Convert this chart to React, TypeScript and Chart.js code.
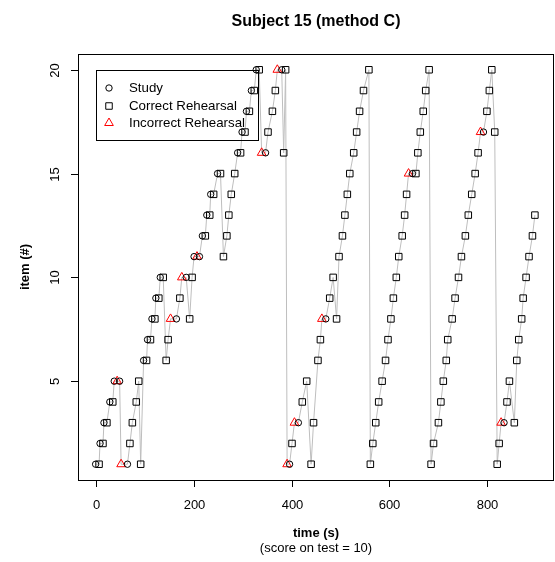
import React, { useEffect, useRef } from "react";
import { Chart, registerables } from "chart.js";

Chart.register(...registerables);

// Study presentations (time in s, item number)
const studyTimes = [0, 9, 17, 29, 38, 49, 65, 98, 106, 115, 123, 132, 165, 185, 201, 212, 218, 227, 235, 249, 290, 299, 308, 318, 328, 347, 380, 396, 414, 470, 647, 792, 834];
const studyItems = [1, 2, 3, 4, 5, 5, 1, 6, 7, 8, 9, 10, 8, 10, 11, 11, 12, 13, 14, 15, 16, 17, 18, 19, 20, 16, 20, 1, 3, 8, 15, 17, 3];

// Correct rehearsals
const correctTimes = [
  7, 15, 23, 35, 70, 75, 83, 88, 92,
  104, 112, 121, 129, 138, 144, 148, 172, 192, 197,
  224, 233, 241, 255, 261, 268, 272, 277, 284,
  296, 305, 314, 324, 334, 352, 361, 367, 384, 388,
  401, 422, 431, 440, 445, 454, 459, 478, 485, 492, 497, 504, 509, 514, 519, 527, 533, 539, 547, 558,
  561, 566, 572, 578, 585, 592, 597, 603, 608, 614, 619, 626, 631, 635, 654, 658, 663, 669, 674, 681,
  685, 690, 700, 705, 710, 716, 719, 728, 734, 741, 747, 755, 761, 768, 775, 781, 799, 804, 809, 815,
  820, 824, 840, 845, 855, 860, 864, 870, 873, 879, 885, 892, 897,
];
const correctItems = [
  1, 2, 3, 4, 2, 3, 4, 5, 1,
  6, 7, 8, 9, 10, 6, 7, 9, 8, 10,
  12, 13, 14, 15, 11, 12, 13, 14, 15,
  16, 17, 18, 19, 20, 17, 18, 19, 16, 20,
  2, 4, 5, 1, 3, 6, 7, 9, 10, 8, 11, 12, 13, 14, 15, 16, 17, 18, 19, 20,
  1, 2, 3, 4, 5, 6, 7, 8, 9, 10, 11, 12, 13, 14, 15, 16, 17, 18, 19, 20,
  1, 2, 3, 4, 5, 6, 7, 8, 9, 10, 11, 12, 13, 14, 15, 16, 18, 19, 20, 17,
  1, 2, 4, 5, 3, 6, 7, 8, 9, 10, 11, 12, 13,
];

// Incorrect rehearsals
const incorrectTimes = [44, 52, 153, 176, 207, 339, 371, 391, 406, 462, 639, 786, 828];
const incorrectItems = [5, 1, 8, 10, 11, 16, 20, 1, 3, 8, 15, 17, 3];

const xTicks = [0, 200, 400, 600, 800];
const yTicks = [5, 10, 15, 20];

const titleText = "Subject 15 (method C)";
const xLabel = "time (s)";
const subLabel = "(score on test = 10)";
const yLabel = "item (#)";
const legendLabels = ["Study", "Correct Rehearsal", "Incorrect Rehearsal"];

const FONT = "'Liberation Sans', Arial, Helvetica, sans-serif";

type Pt = { x: number; y: number };

function toPoints(xs: number[], ys: number[]): Pt[] {
  return xs.map((x, i) => ({ x, y: ys[i] }));
}

const rPlotPlugin = {
  id: "rPlot",
  afterDatasetsDraw(chart: any) {
    const { ctx, chartArea: a, scales } = chart;
    const xs = scales.x;
    const ys = scales.y;
    ctx.save();
    ctx.strokeStyle = "#000";
    ctx.lineWidth = 1;
    // plot frame
    ctx.strokeRect(Math.round(a.left) + 0.5, Math.round(a.top) + 0.5, Math.round(a.right - a.left) - 1, Math.round(a.bottom - a.top));

    ctx.fillStyle = "#000";
    ctx.font = `13px ${FONT}`;
    // x axis ticks
    ctx.textAlign = "center";
    ctx.textBaseline = "middle";
    xTicks.forEach((v) => {
      const px = Math.round(xs.getPixelForValue(v)) + 0.5;
      ctx.beginPath();
      ctx.moveTo(px, a.bottom);
      ctx.lineTo(px, a.bottom + 7);
      ctx.stroke();
      ctx.fillText(String(v), px, a.bottom + 25);
    });
    // y axis ticks (labels rotated)
    yTicks.forEach((v) => {
      const py = Math.round(ys.getPixelForValue(v)) + 0.5;
      ctx.beginPath();
      ctx.moveTo(a.left, py);
      ctx.lineTo(a.left - 7, py);
      ctx.stroke();
      ctx.save();
      ctx.translate(a.left - 23, py);
      ctx.rotate(-Math.PI / 2);
      ctx.fillText(String(v), 0, 0);
      ctx.restore();
    });

    // titles
    const cx = (a.left + a.right) / 2;
    ctx.font = `bold 16px ${FONT}`;
    ctx.fillText(titleText, cx, 22);
    ctx.font = `bold 13px ${FONT}`;
    ctx.fillText(xLabel, cx, a.bottom + 53);
    ctx.font = `13px ${FONT}`;
    ctx.fillText(subLabel, cx, a.bottom + 68);
    ctx.save();
    ctx.font = `bold 13px ${FONT}`;
    ctx.translate(a.left - 53, (a.top + a.bottom) / 2);
    ctx.rotate(-Math.PI / 2);
    ctx.fillText(yLabel, 0, 0);
    ctx.restore();

    // legend
    const lx = 96.5, ly = 70.5, lw = 162, lh = 70;
    ctx.strokeRect(lx, ly, lw, lh);
    ctx.textAlign = "left";
    ctx.font = `13.3px ${FONT}`;
    const rows = [88, 106, 123];
    const sx = 109;
    rows.forEach((ry, i) => {
      ctx.fillStyle = "#000";
      ctx.fillText(legendLabels[i], 129, ry);
      ctx.beginPath();
      if (i === 0) {
        ctx.strokeStyle = "#000";
        ctx.arc(sx, ry, 3.2, 0, Math.PI * 2);
      } else if (i === 1) {
        ctx.strokeStyle = "#000";
        ctx.rect(sx - 3.25, ry - 3.25, 6.5, 6.5);
      } else {
        ctx.strokeStyle = "#ff0000";
        ctx.moveTo(sx, ry - 5);
        ctx.lineTo(sx + 4.33, ry + 2.5);
        ctx.lineTo(sx - 4.33, ry + 2.5);
        ctx.closePath();
      }
      ctx.stroke();
    });
    ctx.restore();
  },
};

export default function App() {
  const ref = useRef<HTMLCanvasElement | null>(null);

  useEffect(() => {
    if (!ref.current) return;
    const study = toPoints(studyTimes, studyItems);
    const correct = toPoints(correctTimes, correctItems);
    const incorrect = toPoints(incorrectTimes, incorrectItems);
    // the trial sequence in time order, joined by a grey line
    const path = [...study, ...correct, ...incorrect].sort((p, q) => p.x - q.x);

    const chart = new Chart(ref.current, {
      type: "scatter",
      data: {
        datasets: [
          {
            label: legendLabels[0],
            data: study,
            pointStyle: "circle",
            pointRadius: 3.2,
            pointBorderWidth: 1,
            pointBorderColor: "#000",
            pointBackgroundColor: "rgba(0,0,0,0)",
            order: 1,
          },
          {
            label: legendLabels[1],
            data: correct,
            pointStyle: "rect",
            pointRadius: 4.6,
            pointBorderWidth: 1,
            pointBorderColor: "#000",
            pointBackgroundColor: "rgba(0,0,0,0)",
            order: 1,
          },
          {
            label: legendLabels[2],
            data: incorrect,
            pointStyle: "triangle",
            pointRadius: 5,
            pointBorderWidth: 1,
            pointBorderColor: "#ff0000",
            pointBackgroundColor: "rgba(0,0,0,0)",
            order: 1,
          },
          {
            label: "sequence",
            data: path,
            showLine: true,
            borderColor: "#bebebe",
            borderWidth: 1,
            pointRadius: 0,
            order: 5,
          },
        ],
      },
      options: {
        animation: false,
        responsive: false,
        devicePixelRatio: 1,
        layout: { autoPadding: false, padding: { left: 78, top: 54, right: 1, bottom: 82 } },
        plugins: { legend: { display: false }, tooltip: { enabled: false }, title: { display: false } },
        events: [],
        scales: {
          x: { type: "linear", min: -36, max: 936, display: false },
          y: { type: "linear", min: 0.24, max: 20.76, display: false },
        },
      },
      plugins: [rPlotPlugin],
    });
    return () => chart.destroy();
  }, []);

  return (
    <div style={{ position: "absolute", left: 0, top: 0, width: 555, height: 562, background: "#fff" }}>
      <canvas ref={ref} width={555} height={562} style={{ display: "block" }} />
    </div>
  );
}
